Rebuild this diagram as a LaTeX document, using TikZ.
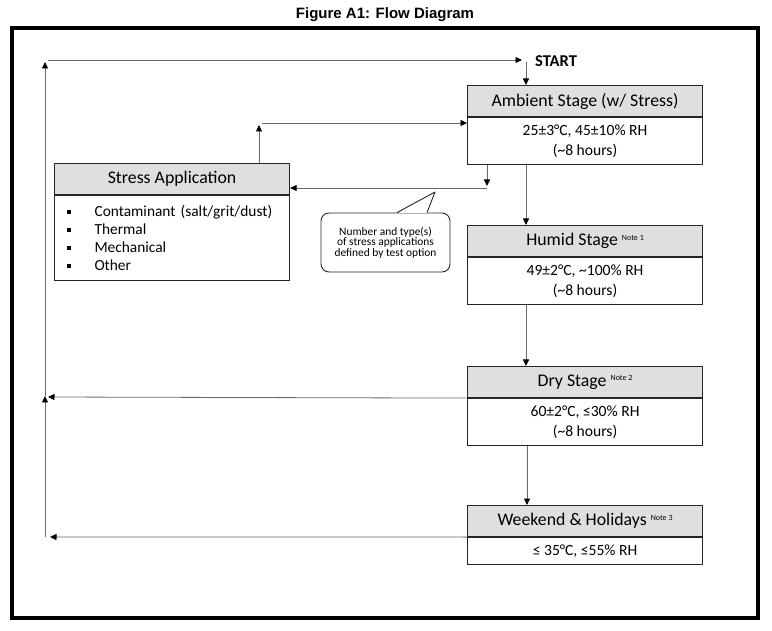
\documentclass[tikz,border=0pt]{standalone}
\usepackage{fontspec}
\setmainfont{Carlito}
\newfontfamily\arialfont{Liberation Sans}
\usetikzlibrary{arrows.meta,calc}
\definecolor{hdrgray}{RGB}{223,223,223}
\definecolor{linegray}{RGB}{105,105,105}
\tikzset{
  hdr/.style={draw=black!85, line width=1.1pt, fill=hdrgray, minimum width=235pt, minimum height=31pt, inner sep=0pt, font=\fontsize{17.8}{20}\selectfont, anchor=north west},
  bdy/.style={draw=black!85, line width=1.1pt, fill=white, minimum width=235pt, inner sep=0pt, align=center, font=\fontsize{15.6}{20}\selectfont, anchor=north},
  arr/.style={draw=linegray, line width=0.8pt, -{Triangle[length=6.5pt,width=6pt,color=black]}},
}
\newcommand{\notesup}[1]{\raisebox{5.5pt}{\fontsize{8}{8}\selectfont #1}}
\newcommand{\sqbul}{\hspace{2pt}\raisebox{2.5pt}{\rule{4.5pt}{4.5pt}}\hspace{23.5pt}}
\begin{document}
\begin{tikzpicture}[x=1pt,y=-1pt]
\useasboundingbox (0,0) rectangle (772,631);
% title and frame
\node[font=\arialfont\bfseries\fontsize{15}{18}\selectfont, anchor=base] (title) at (385,18.5) {Figure A1: Flow Diagram};
\draw[line width=3.5pt] (12,28) rectangle (758,618);

% stage boxes
\node[hdr] (amb) at (467,85) {\raisebox{-1pt}{Ambient Stage (w/ Stress)}};
\node[bdy, minimum height=47pt] (ambb) at (amb.south) {25±3°C, 45±10\% RH\\(\textasciitilde 8 hours)};

\node[hdr] (hum) at (467,225) {\raisebox{-1pt}{Humid Stage \notesup{Note 1}}};
\node[bdy, minimum height=47pt] (humb) at (hum.south) {49±2°C, \textasciitilde 100\% RH\\(\textasciitilde 8 hours)};

\node[hdr] (dry) at (467,366) {\raisebox{-1pt}{Dry Stage \notesup{Note 2}}};
\node[bdy, minimum height=47pt] (dryb) at (dry.south) {60±2°C, ≤30\% RH\\(\textasciitilde 8 hours)};

\node[hdr] (wk) at (467,505) {\raisebox{-1pt}{Weekend \& Holidays \notesup{Note 3}}};
\node[bdy, minimum height=27pt] (wkb) at (wk.south) {≤ 35°C, ≤55\% RH};

% stress application box
\node[hdr] (str) at (54,163) {\raisebox{-1pt}{Stress Application}};
\node[bdy, minimum height=85pt, text width=215pt, inner xsep=10pt, align=left, font=\fontsize{15.4}{18}\selectfont] (strb) at (str.south) {\sqbul Contaminant (salt/grit/dust)\\\sqbul Thermal\\\sqbul Mechanical\\\sqbul Other};

% START
\node[font=\bfseries\fontsize{16.5}{18}\selectfont, anchor=west, inner sep=0pt] (start) at (535,61) {START};

% callout
\node[draw=black!85, line width=0.9pt, rounded corners=8pt, minimum width=129pt, minimum height=59pt, inner sep=0pt, align=center, font=\fontsize{11.4}{10.6}\selectfont] (note) at (385.5,242.5) {Number and type(s)\\of stress applications\\defined by test option};
\fill[white] (399,212.9) -- (435,192) -- (427,212.9) -- cycle;
\draw[black!85, line width=0.9pt, line join=round] ($(note.north west)+(76.5,0)$) -- (435,192) -- ($(note.north west)+(106.5,0)$);

% coordinates
\coordinate (looptop) at (45,62);
\coordinate (toprow) at (48,60);
\coordinate (startin) at (522,60);
\coordinate (startout) at (526,62);
\coordinate (loopmid) at (45,396);
\coordinate (loopbot) at (45,537);
\coordinate (dryin) at (48,397);
\coordinate (wkin) at (50,537);
\coordinate (upend) at (259,125);
\coordinate (uprow) at (262,123);
\coordinate (downend) at (487,186);
\coordinate (leftrow) at (487,188);

% main flow
\draw[arr] (toprow) -- (startin);
\draw[arr] (startout) -- (startout |- amb.north);
\draw[arr] ($(ambb.south west)+(59,0)$) -- ($(hum.north west)+(59,0)$);
\draw[arr] ($(humb.south west)+(59,0)$) -- ($(dry.north west)+(59,0)$);
\draw[arr] ($(dryb.south west)+(60,0)$) -- ($(wk.north west)+(60,0)$);

% return loop
\draw[arr] (dry.south west) -- (dryin);
\draw[arr] (wk.south west) -- (wkin);
\draw[arr] (loopbot) -- (loopmid);
\draw[arr] (loopmid) -- (looptop);

% stress loop
\draw[arr] ($(ambb.south west)+(20,0)$) -- (downend);
\draw[arr] (leftrow) -- (leftrow -| str.east);
\draw[arr] ($(str.north west)+(205,0)$) -- (upend);
\draw[arr] (uprow) -- (uprow -| ambb.west);
\end{tikzpicture}
\end{document}
